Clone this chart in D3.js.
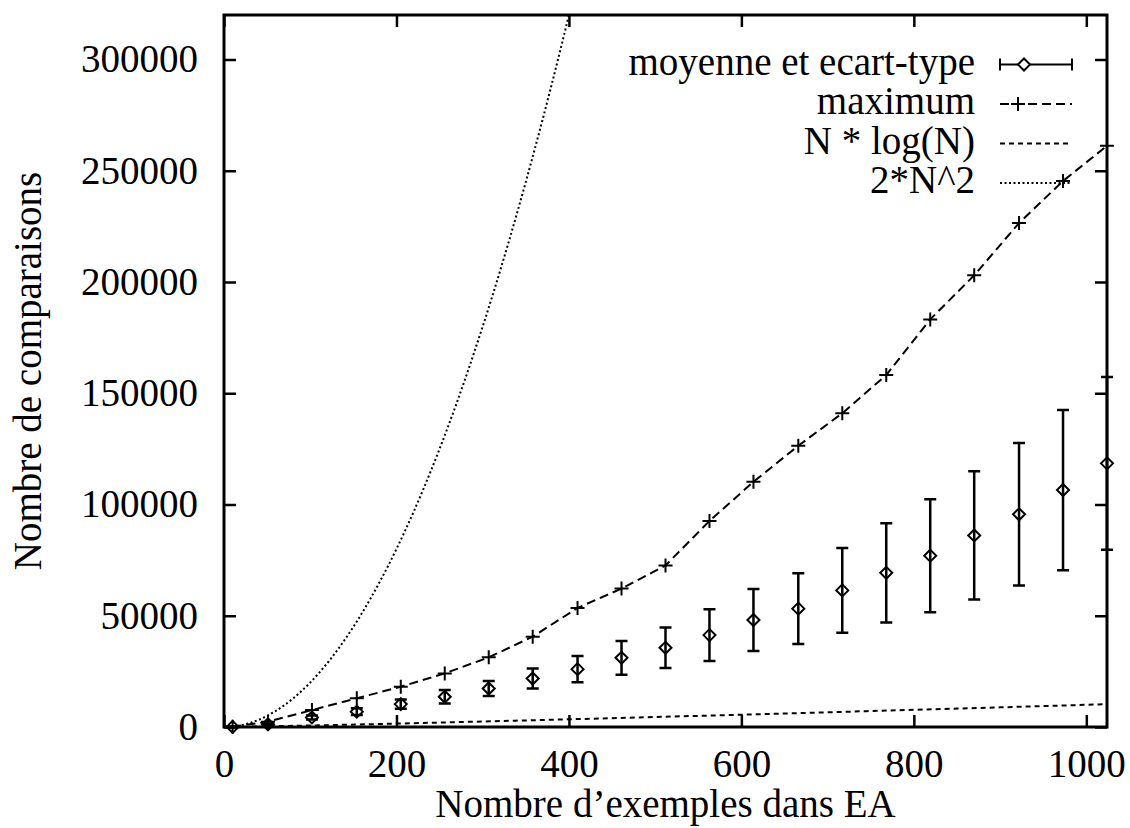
<!DOCTYPE html>
<html lang="fr">
<head>
<meta charset="utf-8">
<title>Nombre de comparaisons</title>
<script src="https://cdn.jsdelivr.net/npm/d3@7"></script>
<style>
  body { margin: 0; background: #fff; }
  svg text { font-family: "Liberation Serif", "Times New Roman", serif; fill: #000; }
</style>
</head>
<body>
<script>
// tailles de EA (abscisses des mesures)
var sizes = [10, 51, 102, 154, 205, 256, 307, 358, 410, 461, 512, 563, 614, 666, 717, 768, 819, 870, 922, 973, 1024];
// moyenne et ecart-type du nombre de comparaisons
var means = [50, 1200, 4300, 6900, 10300, 13600, 17300, 21800, 26000, 31100, 35600, 41300, 48100, 53200, 61400, 69300, 77000, 86100, 95600, 106500, 118500];
var stdDevs = [20, 300, 900, 1500, 2100, 3000, 3400, 4500, 5900, 7600, 9100, 11600, 13900, 15900, 19000, 22300, 25400, 28800, 32000, 36000, 38800];
// maximum observe
var maxima = [100, 2400, 7600, 12900, 18100, 24100, 31300, 40600, 53500, 62200, 72600, 92600, 110200, 126400, 141000, 158200, 183200, 203000, 226500, 245400, 261200];

// courbes de reference
var nlogN_x = [1, 100, 200, 300, 400, 500, 600, 700, 800, 900, 1000, 1024];
var nlogN_y = [0, 660, 1530, 2470, 3460, 4480, 5540, 6620, 7710, 8830, 9970, 10240];
var sq_x = [0, 20, 40, 60, 80, 100, 120, 140, 160, 180, 200, 220, 240, 260, 280, 300, 320, 340, 360, 380, 400, 410];
var sq_y = [0, 800, 3200, 7200, 12800, 20000, 28800, 39200, 51200, 64800, 80000, 96800, 115200, 135200, 156800, 180000, 204800, 231200, 259200, 288800, 320000, 336200];

var xTicks = [0, 200, 400, 600, 800, 1000];
var yTicks = [0, 50000, 100000, 150000, 200000, 250000, 300000];
var legendLabels = ["moyenne et ecart-type", "maximum", "N * log(N)", "2*N^2"];

var width = 1130, height = 828;
var pLeft = 224, pRight = 1107, pTop = 15, pBottom = 727;
var fontSize = 39;

var svg = d3.select("body").append("svg")
    .attr("width", width)
    .attr("height", height);

svg.append("rect").attr("width", width).attr("height", height).attr("fill", "#fff");

var x = d3.scaleLinear().domain([0, 1024]).range([pLeft, pRight]);
var y = d3.scaleLinear().domain([0, 320000]).range([pBottom, pTop]);

svg.append("clipPath").attr("id", "plot")
  .append("rect")
    .attr("x", pLeft).attr("y", pTop)
    .attr("width", pRight - pLeft).attr("height", pBottom - pTop);

// axes (ticks vers l'interieur, comme gnuplot)
function styleAxis(g) {
  g.select(".domain").remove();
  g.selectAll(".tick line").attr("stroke", "#000").attr("stroke-width", 2.5);
  g.selectAll(".tick text").style("font-size", fontSize + "px").attr("fill", "#000");
}

svg.append("g")
    .attr("transform", "translate(0," + pBottom + ")")
    .call(d3.axisBottom(x).tickValues(xTicks).tickFormat(d3.format("d"))
      .tickSizeInner(-12).tickSizeOuter(0).tickPadding(22))
    .call(styleAxis);

svg.append("g")
    .attr("transform", "translate(" + pLeft + ",0)")
    .call(d3.axisLeft(y).tickValues(yTicks).tickFormat(d3.format("d"))
      .tickSizeInner(-12).tickSizeOuter(0).tickPadding(26))
    .call(styleAxis);

svg.append("g")
    .attr("transform", "translate(0," + pTop + ")")
    .call(d3.axisTop(x).tickValues(xTicks).tickSizeInner(-12).tickSizeOuter(0).tickFormat(""))
    .call(styleAxis);

svg.append("g")
    .attr("transform", "translate(" + pRight + ",0)")
    .call(d3.axisRight(y).tickValues(yTicks).tickSizeInner(-12).tickSizeOuter(0).tickFormat(""))
    .call(styleAxis);

// courbes
var plot = svg.append("g").attr("clip-path", "url(#plot)");

var line = d3.line()
    .x(function(d) { return x(d[0]); })
    .y(function(d) { return y(d[1]); });

plot.append("path")
    .attr("d", line.curve(d3.curveMonotoneX)(sq_x.map(function(v, i) { return [v, sq_y[i]]; })))
    .attr("fill", "none").attr("stroke", "#000").attr("stroke-width", 2)
    .attr("stroke-dasharray", "2,2.5");

plot.append("path")
    .attr("d", line.curve(d3.curveMonotoneX)(nlogN_x.map(function(v, i) { return [v, nlogN_y[i]]; })))
    .attr("fill", "none").attr("stroke", "#000").attr("stroke-width", 2)
    .attr("stroke-dasharray", "5,4");

svg.append("path")
    .attr("d", line.curve(d3.curveLinear)(sizes.map(function(v, i) { return [v, maxima[i]]; })))
    .attr("fill", "none").attr("stroke", "#000").attr("stroke-width", 2)
    .attr("stroke-dasharray", "9,5");

svg.selectAll(".maxpt")
    .data(sizes)
  .enter().append("path")
    .attr("class", "maxpt")
    .attr("d", function(d, i) {
      var cx = x(d), cy = y(maxima[i]);
      return "M" + (cx - 7) + "," + cy + "H" + (cx + 7) + "M" + cx + "," + (cy - 7) + "V" + (cy + 7);
    })
    .attr("stroke", "#000").attr("stroke-width", 2);

// barres d'erreur
var bars = svg.selectAll(".bar")
    .data(sizes)
  .enter().append("g")
    .attr("class", "bar");

bars.append("path")
    .attr("d", function(d, i) {
      var cx = x(d), lo = y(means[i] - stdDevs[i]), hi = y(means[i] + stdDevs[i]);
      return "M" + cx + "," + lo + "V" + hi +
             "M" + (cx - 6) + "," + lo + "H" + (cx + 6) +
             "M" + (cx - 6) + "," + hi + "H" + (cx + 6);
    })
    .attr("stroke", "#000").attr("stroke-width", 2.5).attr("fill", "none");

bars.append("path")
    .attr("d", function(d, i) {
      var cx = x(d), cy = y(means[i]);
      return "M" + (cx - 6) + "," + cy + "L" + cx + "," + (cy - 6) + "L" + (cx + 6) + "," + cy + "L" + cx + "," + (cy + 6) + "Z";
    })
    .attr("stroke", "#000").attr("stroke-width", 2).attr("fill", "none");

// cadre
svg.append("rect")
    .attr("x", pLeft).attr("y", pTop)
    .attr("width", pRight - pLeft).attr("height", pBottom - pTop)
    .attr("fill", "none").attr("stroke", "#000").attr("stroke-width", 3);

// legende
var legend = svg.append("g");
var ly0 = 64.5, lstep = 39.5, lx0 = 1000, lx1 = 1072;

legendLabels.forEach(function(label, i) {
  var ly = ly0 + i * lstep;
  legend.append("text")
      .attr("x", 975).attr("y", ly + 10)
      .attr("text-anchor", "end")
      .style("font-size", fontSize + "px")
      .text(label);
  var s = legend.append("path")
      .attr("fill", "none").attr("stroke", "#000").attr("stroke-width", 2);
  if (i === 0) {
    s.attr("d", "M" + lx0 + "," + ly + "H" + lx1 + "M" + lx0 + "," + (ly - 6) + "V" + (ly + 6) + "M" + lx1 + "," + (ly - 6) + "V" + (ly + 6));
    legend.append("path")
        .attr("d", "M1018," + ly + "L1024," + (ly - 6) + "L1030," + ly + "L1024," + (ly + 6) + "Z")
        .attr("fill", "#fff").attr("stroke", "#000").attr("stroke-width", 2);
  } else if (i === 1) {
    s.attr("d", "M" + lx0 + "," + ly + "H" + lx1).attr("stroke-dasharray", "9,5");
    legend.append("path")
        .attr("d", "M1011," + ly + "H1025M1018," + (ly - 7) + "V" + (ly + 7))
        .attr("stroke", "#000").attr("stroke-width", 2);
  } else if (i === 2) {
    s.attr("d", "M" + lx0 + "," + ly + "H" + lx1).attr("stroke-dasharray", "5,4");
  } else {
    s.attr("d", "M" + lx0 + "," + ly + "H" + lx1).attr("stroke-dasharray", "2,2.5");
  }
});

// titres des axes
svg.append("text")
    .attr("x", (pLeft + pRight) / 2).attr("y", 817)
    .attr("text-anchor", "middle")
    .style("font-size", fontSize + "px")
    .text("Nombre d\u2019exemples dans EA");

svg.append("text")
    .attr("transform", "translate(41," + ((pTop + pBottom) / 2) + ") rotate(-90)")
    .attr("text-anchor", "middle")
    .style("font-size", fontSize + "px")
    .text("Nombre de comparaisons");
</script>
</body>
</html>
